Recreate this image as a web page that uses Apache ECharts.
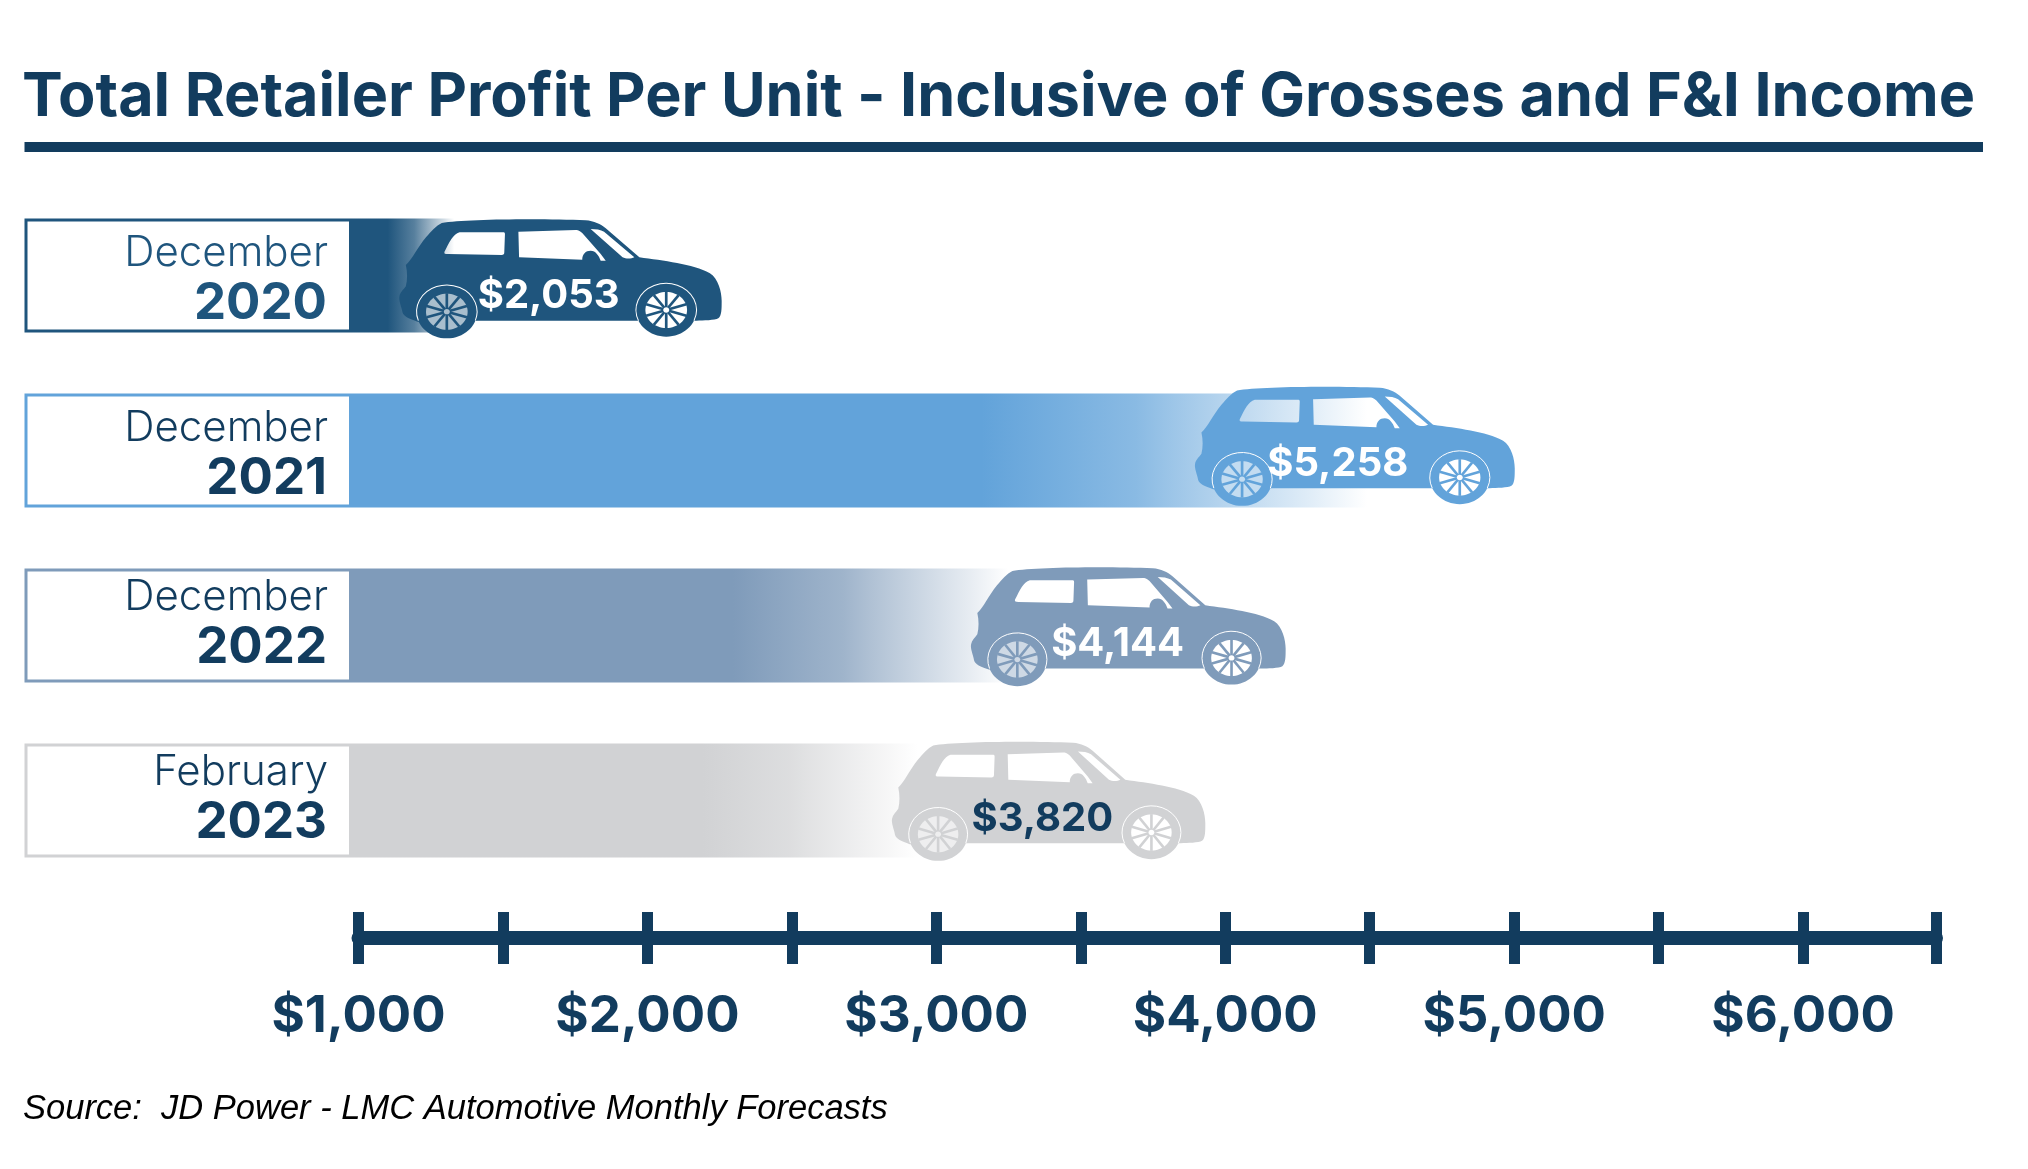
<!DOCTYPE html>
<html><head><meta charset="utf-8">
<style>html,body{margin:0;padding:0;background:#fff}#c{width:2028px;height:1169px}</style>
<script src="https://cdn.jsdelivr.net/npm/echarts@6/dist/echarts.min.js"></script>
</head><body><div id="c"></div>
<script>
const titleText = 'Total Retailer Profit Per Unit - Inclusive of Grosses and F&I Income';
const sourceText = 'Source:  JD Power - LMC Automotive Monthly Forecasts';
const months = ['December', 'December', 'December', 'February'];
const years = ['2020', '2021', '2022', '2023'];
const profit = [2053, 5258, 4144, 3820];
// In the original the car noses do not sit at the printed value on the printed axis,
// so where each car and fade ends is read off the picture separately, in axis dollars.
const carNoseOnAxis = [2257, 5002, 4209, 3931];
const fadeEndOnAxis = [1331, 4491, 3251, 2936];
const axisTicks = {min: 1000, max: 6460, interval: 500};

const NAVY = '#123c5e';
const colors = ['#1f557d', '#62a3da', '#7f9bba', '#d1d2d4'];
const textColors = ['#1f557d', NAVY, NAVY, NAVY];
const valueColors = ['#fff', '#fff', '#fff', NAVY];
const fadeSolid = [0.35, 0.62, 0.58, 0.62];
const carLift = [7.5, 0, 5.4, 5];
const carStretch = [1.008, 1, 0.984, 0.98];
const valueBack = [173, 177, 168, 163];
const boxTextLift = [3, 3, -3, -3];
const BOX_L = 24.5, BOX_R = 352, BAR_H = 114;

const CAR_BODY = 'M190 388C165 380 148 372 145 360C143 345 133 325 136 312C138 300 148 292 155 282C160 262 160 240 155 218C175 200 190 165 215 135C230 118 245 100 262 92C330 80 560 78 690 84C715 86 735 95 750 108L850 195C920 205 1010 215 1060 243C1085 258 1095 300 1095 325C1095 350 1095 370 1085 378C1075 384 1040 385 1020 385L370 385Z'
 + 'M315 120C295 125 285 150 270 178C268 184 272 185 280 185L440 188C446 188 448 186 448 180L450 125C450 121 447 120 445 120Z'
 + 'M490 118L492 195L680 202C680 185 690 175 705 175C720 175 730 190 735 205L750 205L735 185L680 122C672 114 665 113 660 113Z'
 + 'M705 110L800 195C810 200 825 200 835 195L745 118C735 112 720 110 705 110Z';

function wheel(cx, cy, color, rimFill) {
  const kids = [];
  const rx = 90, ry = 80, bodyY = 385;
  const dx = rx * Math.sqrt(1 - Math.pow((bodyY - cy) / ry, 2));
  kids.push({type: 'ellipse', shape: {cx, cy, rx, ry}, style: {fill: color}});
  kids.push({type: 'path', shape: {pathData: `M${cx - dx} ${bodyY}A${rx} ${ry} 0 1 1 ${cx + dx} ${bodyY}`},
    style: {fill: 'none', stroke: '#fff', lineWidth: 3}});
  kids.push({type: 'ellipse', shape: {cx, cy, rx: 62, ry: 54}, style: {fill: rimFill}});
  for (let a = 0; a < 10; a++) {
    const t = (a + 0.5) * Math.PI / 5;
    kids.push({type: 'line', shape: {x1: cx, y1: cy, x2: cx + 63 * Math.cos(t), y2: cy + 55 * Math.sin(t)},
      style: {stroke: color, lineWidth: 8}});
  }
  kids.push({type: 'ellipse', shape: {cx, cy, rx: 9, ry: 8}, style: {fill: rimFill}});
  return kids;
}

function renderRow(params, api) {
  const i = params.dataIndex;
  const cy = api.coord([axisTicks.min, i])[1];
  const noseX = api.coord([carNoseOnAxis[i], i])[0];
  const fadeX = api.coord([fadeEndOnAxis[i], i])[0];
  const c = colors[i];
  const s = fadeSolid[i];
  const at = k => s + k * (1 - s);
  const fade = a => echarts.color.modifyAlpha(c, a);
  const top = cy - BAR_H / 2;
  const kids = [];
  kids.push({type: 'rect', shape: {x: BOX_R, y: top, width: fadeX - BOX_R, height: BAR_H},
    style: {fill: new echarts.graphic.LinearGradient(0, 0, 1, 0, [
      {offset: 0, color: c}, {offset: s, color: c},
      {offset: at(0.4), color: fade(0.75)}, {offset: at(0.5), color: fade(0.62)},
      {offset: at(0.85), color: fade(0.2)}, {offset: 1, color: fade(0)}])}});
  kids.push({type: 'rect', shape: {x: BOX_L + 1.5, y: top + 1.5, width: BOX_R - BOX_L - 3, height: BAR_H - 3},
    style: {fill: '#fff', stroke: c, lineWidth: 3}});
  kids.push({type: 'text', style: {text: months[i], x: 328, y: cy - 25 + boxTextLift[i], textAlign: 'right', textVerticalAlign: 'middle',
    font: '300 42px Inter', fill: textColors[i]}});
  kids.push({type: 'text', style: {text: years[i], x: 327, y: cy + 25 + boxTextLift[i], textAlign: 'right', textVerticalAlign: 'middle',
    font: '700 51px Inter', fill: textColors[i]}});
  const rimRear = echarts.color.modifyAlpha('#ffffff', 0.62);
  const car = {type: 'group', x: noseX - carStretch[i] * 1095 / 3, y: cy + carLift[i] - 272 / 3, scaleX: carStretch[i] / 3, scaleY: 1 / 3, children: [
    {type: 'path', shape: {pathData: CAR_BODY}, style: {fill: c}},
    ...wheel(277, 358, c, rimRear),
    ...wheel(930, 353, c, '#ffffff')
  ]};
  kids.push(car);
  kids.push({type: 'text', style: {text: '$' + profit[i].toLocaleString('en-US'), x: noseX - valueBack[i], y: cy + carLift[i] + 13,
    textAlign: 'center', textVerticalAlign: 'middle', font: '700 40px Inter', fill: valueColors[i]}});
  return {type: 'group', children: kids};
}

const tickLine = {lineStyle: {color: NAVY, width: 11}, length: 26};
const chart = echarts.init(document.getElementById('c'), null, {renderer: 'canvas'});
chart.setOption({
  animation: false,
  backgroundColor: '#fff',
  title: [
    {text: titleText, left: 22, top: 67, padding: 0, textStyle: {color: NAVY, fontFamily: 'Inter', fontWeight: 700, fontSize: 61.1}},
    {text: sourceText, left: 23, top: 1092, padding: 0, textStyle: {color: '#000', fontFamily: 'Liberation Sans', fontStyle: 'italic', fontWeight: 400, fontSize: 34.5}}
  ],
  graphic: [{type: 'rect', shape: {x: 24.5, y: 142, width: 1958.5, height: 10}, style: {fill: NAVY}}],
  grid: {left: 358.5, top: 188, width: 1577.5, height: 700, containLabel: false},
  xAxis: [
    {type: 'value', position: 'bottom', offset: 50, ...axisTicks, splitLine: {show: false},
     axisLine: {show: true, lineStyle: {color: NAVY, width: 14}},
     axisTick: {show: true, ...tickLine},
     axisLabel: {show: true, margin: 53, color: NAVY, fontFamily: 'Inter', fontWeight: 700, fontSize: 51, hideOverlap: false, showMinLabel: true, showMaxLabel: true,
       formatter: v => v % 1000 === 0 ? '$' + v.toLocaleString('en-US') : ''}},
    {type: 'value', position: 'bottom', offset: 50, ...axisTicks, splitLine: {show: false},
     axisLine: {show: false},
     axisTick: {show: true, inside: true, ...tickLine},
     axisLabel: {show: false}}
  ],
  yAxis: {type: 'category', inverse: true, data: years, show: false},
  series: [{type: 'custom', xAxisIndex: 0, yAxisIndex: 0, clip: false, renderItem: renderRow,
    encode: {x: 0, y: 1}, data: profit.map((v, i) => [v, i])}]
});
</script></body></html>
